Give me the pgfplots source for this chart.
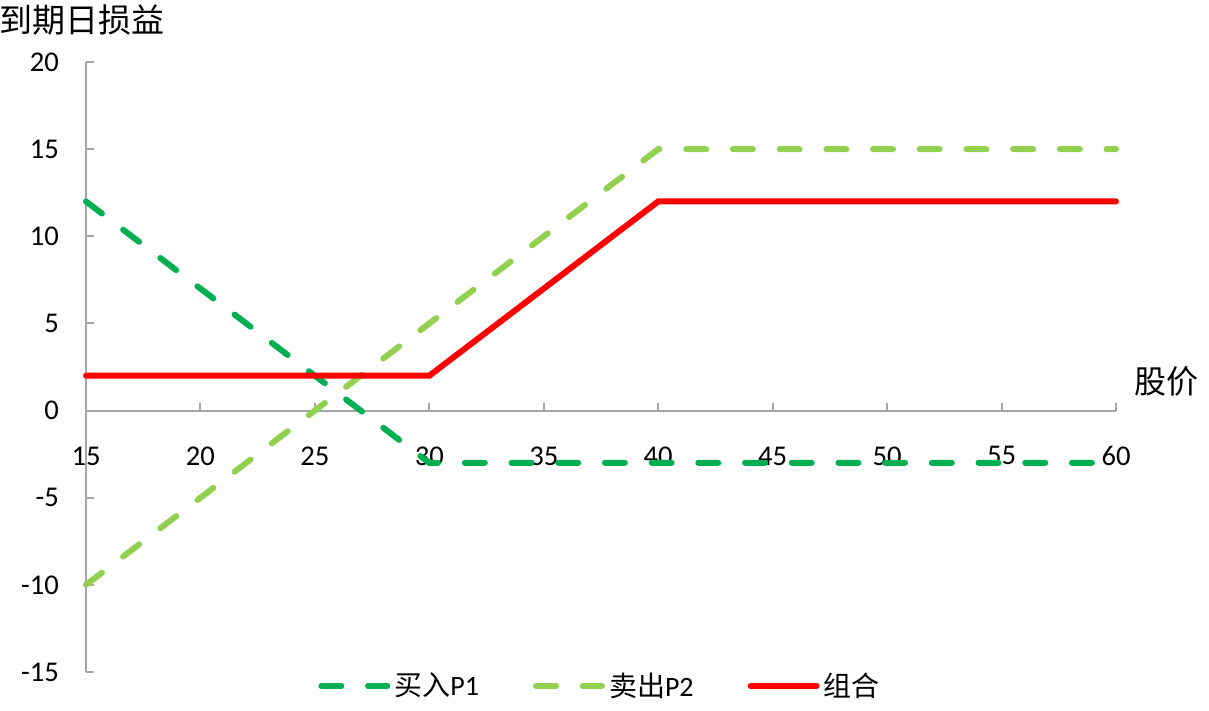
\documentclass[border=0pt]{standalone}
\usepackage{pgfplots}
\pgfplotsset{compat=1.18}
\usepackage{fontspec}
\setmainfont{Carlito}
\newfontfamily\cjk{Noto Sans CJK SC}
\definecolor{dgreen}{HTML}{00B050}
\definecolor{lgreen}{HTML}{92D050}
\definecolor{axgray}{HTML}{A6A6A6}
\begin{document}
\begin{tikzpicture}
\useasboundingbox (0,0) rectangle (604.5pt,355.5pt);
\begin{axis}[
  at={(43pt,19.5pt)}, anchor=south west,
  scale only axis, width=515pt, height=305pt,
  xmin=15, xmax=60, ymin=-15, ymax=20,
  axis x line*=middle, axis y line*=left,
  hide obscured x ticks=false, hide obscured y ticks=false,
  axis line style={draw=axgray, line width=1pt},
  tick style={draw=axgray, line width=1pt},
  tick align=inside, major tick length=4pt,
  xtick={15,20,...,60}, xticklabels={15,20,25,30,35,40,45,50,55,60},
  ytick={-15,-10,...,20}, yticklabels={-15,-10,-5,0,5,10,15,20},
  every tick label/.append style={font=\fontsize{14.3}{16}\selectfont, text=black},
  xticklabel style={yshift=-14.5pt},
  yticklabel style={xshift=-10pt},
  clip=false,
  xlabel={\cjk 股价},
  xlabel style={at={(axis cs:60,0)}, anchor=center, xshift=25pt, yshift=14.5pt, font=\fontsize{16}{18}\selectfont},
  ylabel={\cjk 到期日损益},
  ylabel style={rotate=-90, at={(axis description cs:0,1)}, anchor=center, xshift=-1.75pt, yshift=21pt, font=\fontsize{16.5}{18}\selectfont},
  legend columns=3,
  legend style={draw=none, fill=none, at={(0.5,-0.023)}, anchor=center,
    font=\fontsize{14}{16}\selectfont,
    /tikz/every even column/.append style={column sep=25pt}},
  legend image code/.code={\draw[#1] (0pt,0pt) -- (33pt,0pt);},
]
\addplot[dgreen, line width=3pt, line cap=round, dash pattern=on 10pt off 13.35pt] coordinates {(15,12) (30,-3) (60,-3)};
\addlegendentry{{\cjk 买入}P1}
\addplot[lgreen, line width=3pt, line cap=round, dash pattern=on 10pt off 13.35pt] coordinates {(15,-10) (40,15) (60,15)};
\addlegendentry{{\cjk 卖出}P2}
\addplot[red, line width=3pt, line cap=round] coordinates {(15,2) (30,2) (40,12) (60,12)};
\addlegendentry{{\cjk 组合}}
\end{axis}
\end{tikzpicture}
\end{document}
